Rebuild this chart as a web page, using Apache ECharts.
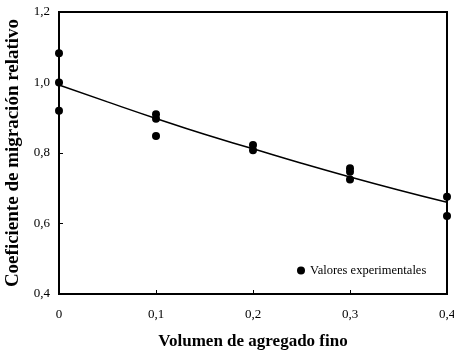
<!DOCTYPE html>
<html><head><meta charset="utf-8">
<script src="https://cdn.jsdelivr.net/npm/echarts@6/dist/echarts.min.js"></script>
<style>html,body{margin:0;padding:0;background:#fff}#c{width:454px;height:355px}</style>
</head><body><div id="c"></div>
<script>
var expX = [0, 0, 0, 0.1, 0.1, 0.1, 0.2, 0.2, 0.3, 0.3, 0.3, 0.4, 0.4];
var expY = [1.083, 1.0, 0.92, 0.91, 0.897, 0.848, 0.823, 0.808, 0.757, 0.747, 0.725, 0.676, 0.621];
var fitX = [0, 0.05, 0.1, 0.15, 0.2, 0.25, 0.3, 0.35, 0.4];
var fitY = [0.993, 0.945, 0.898, 0.853, 0.812, 0.771, 0.732, 0.695, 0.660];
var xTitle = 'Volumen de agregado fino';
var yTitle = 'Coeficiente de migración relativo';
var legendName = 'Valores experimentales';

var font = 'Liberation Serif';
var chart = echarts.init(document.getElementById('c'));
chart.setOption({
  animation: false,
  grid: {left: 59, top: 12, right: 7, bottom: 61, show: true, borderColor: '#000', borderWidth: 2,
    containLabel: false, outerBoundsMode: 'none'},
  legend: {
    data: [{name: legendName, icon: 'circle'}],
    left: 292, top: 259, itemWidth: 8, itemHeight: 8, itemGap: 4,
    textStyle: {fontFamily: font, fontSize: 12.5, color: '#000'}
  },
  xAxis: {
    type: 'value', min: 0, max: 0.4, interval: 0.1,
    name: xTitle, nameLocation: 'middle', nameGap: 39,
    nameTextStyle: {fontFamily: font, fontSize: 17, fontWeight: 'bold', color: '#000'},
    axisLine: {lineStyle: {color: '#000', width: 2}},
    axisTick: {inside: true, length: 4, lineStyle: {color: '#000'}},
    axisLabel: {fontFamily: font, fontSize: 13, color: '#000', margin: 14,
      formatter: function (v) { return v === 0 ? '0' : v.toFixed(1).replace('.', ','); }},
    splitLine: {show: false}
  },
  yAxis: {
    type: 'value', min: 0.4, max: 1.2, interval: 0.2,
    name: yTitle, nameLocation: 'middle', nameGap: 31,
    nameTextStyle: {fontFamily: font, fontSize: 19, fontWeight: 'bold', color: '#000'},
    axisLine: {lineStyle: {color: '#000', width: 2}},
    axisTick: {inside: true, length: 4, lineStyle: {color: '#000'}},
    axisLabel: {fontFamily: font, fontSize: 13, color: '#000', margin: 9,
      formatter: function (v) { return v.toFixed(1).replace('.', ','); }},
    splitLine: {show: false}
  },
  series: [
    {
      name: 'fit', type: 'line', smooth: true, symbol: 'none',
      data: fitX.map(function (x, i) { return [x, fitY[i]]; }),
      lineStyle: {color: '#000', width: 1.5}, z: 2
    },
    {
      name: legendName, type: 'scatter', symbol: 'circle', symbolSize: 8,
      data: expX.map(function (x, i) { return [x, expY[i]]; }),
      itemStyle: {color: '#000', opacity: 1}, z: 3
    }
  ]
});
</script></body></html>
